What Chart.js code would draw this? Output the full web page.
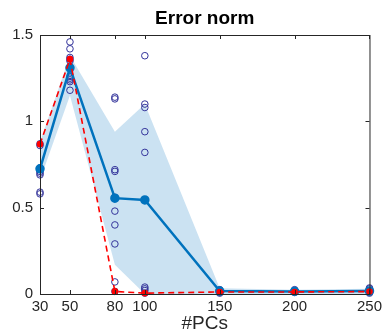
<!DOCTYPE html>
<html>
<head>
<meta charset="utf-8">
<script src="https://cdn.jsdelivr.net/npm/chart.js@4/dist/chart.umd.min.js"></script>
<style>
  html, body { margin: 0; padding: 0; background: #fff; }
  #wrap { width: 386px; height: 335px; }
</style>
</head>
<body>
<div id="wrap"><canvas id="chartError"></canvas></div>
<script>
// number of PCs on the x axis
const pcs = [30, 50, 80, 100, 150, 200, 250];
const yTicks = [0, 0.5, 1, 1.5];

// mean error (solid blue) and the red dashed curve
const meanErr = [0.725, 1.31, 0.555, 0.545, 0.017, 0.015, 0.018];
const redErr = [0.868, 1.36, 0.015, 0.005, 0.012, 0.012, 0.014];

// shaded band
const bandUpper = [0.88, 1.38, 0.94, 1.10, 0.033, 0.025, 0.03];
const bandLower = [0.66, 1.15, 0.17, 0.0, 0.0, 0.0, 0.0];

// single runs (open circles)
const runs30 = [0.87, 0.86, 0.73, 0.72, 0.71, 0.70, 0.69, 0.59, 0.58];
const runs50 = [1.46, 1.42, 1.37, 1.36, 1.35, 1.31, 1.26, 1.25, 1.24, 1.23, 1.18];
const runs80 = [1.14, 1.13, 0.72, 0.71, 0.56, 0.48, 0.40, 0.29, 0.07, 0.015];
const runs100 = [1.38, 1.10, 1.08, 0.94, 0.82, 0.04, 0.03, 0.02, 0.005];
const runs150 = [0.025, 0.02, 0.015, 0.01, 0.005];
const runs200 = [0.025, 0.02, 0.015, 0.01];
const runs250 = [0.035, 0.03, 0.02, 0.015, 0.01, 0.005];

const allRuns = [runs30, runs50, runs80, runs100, runs150, runs200, runs250];
const toXY = (vals) => vals.map((v, i) => ({ x: pcs[i], y: v }));
const runPoints = [];
allRuns.forEach((list, i) => list.forEach(v => runPoints.push({ x: pcs[i], y: v })));

const axisColor = '#262626';

// MATLAB style box with inward ticks
const boxPlugin = {
    id: 'box',
    afterDraw(chart) {
        const { ctx, chartArea: a, scales } = chart;
        ctx.save();
        ctx.strokeStyle = axisColor;
        ctx.lineWidth = 1;
        ctx.strokeRect(a.left + 0.5, a.top + 0.5, a.right - a.left, a.bottom - a.top);
        ctx.beginPath();
        pcs.forEach(v => {
            const x = Math.round(scales.x.getPixelForValue(v)) + 0.5;
            ctx.moveTo(x, a.bottom); ctx.lineTo(x, a.bottom - 4);
            ctx.moveTo(x, a.top); ctx.lineTo(x, a.top + 4);
        });
        yTicks.forEach(v => {
            const y = Math.round(scales.y.getPixelForValue(v)) + 0.5;
            ctx.moveTo(a.left, y); ctx.lineTo(a.left + 4, y);
            ctx.moveTo(a.right, y); ctx.lineTo(a.right - 4, y);
        });
        ctx.stroke();
        ctx.restore();
    }
};

new Chart(document.getElementById('chartError'), {
    type: 'line',
    data: {
        datasets: [
            {
                label: 'lower',
                data: toXY(bandLower),
                borderWidth: 0,
                pointRadius: 0,
                fill: false,
                order: 5
            },
            {
                label: 'upper',
                data: toXY(bandUpper),
                borderWidth: 0,
                pointRadius: 0,
                backgroundColor: 'rgba(160,203,232,0.55)',
                fill: 0,
                order: 4
            },
            {
                label: 'runs',
                data: runPoints,
                showLine: false,
                pointRadius: 3.3,
                pointBorderWidth: 1,
                pointBorderColor: '#33339a',
                pointBackgroundColor: 'rgba(0,0,0,0)',
                clip: false,
                order: 3
            },
            {
                label: 'mean',
                data: toXY(meanErr),
                borderColor: '#0072BD',
                borderWidth: 2.5,
                pointRadius: 3.5,
                pointBackgroundColor: '#0072BD',
                pointBorderColor: '#0072BD',
                tension: 0,
                clip: false,
                order: 2
            },
            {
                label: 'red',
                data: toXY(redErr),
                borderColor: '#ff0000',
                borderWidth: 1.6,
                borderDash: [6, 4],
                pointRadius: 2.5,
                pointBackgroundColor: '#ff0000',
                pointBorderColor: '#ff0000',
                tension: 0,
                clip: false,
                order: 1
            }
        ]
    },
    options: {
        responsive: true,
        maintainAspectRatio: false,
        animation: false,
        layout: { padding: { left: 0, right: 13, top: 0, bottom: 0 } },
        plugins: {
            legend: { display: false },
            tooltip: { enabled: false },
            title: {
                display: true,
                text: 'Error norm',
                fullSize: false,
                color: '#000',
                font: { family: 'Liberation Sans, Arial, sans-serif', size: 19, weight: 'bold' },
                padding: { top: 7, bottom: 5.2 }
            }
        },
        scales: {
            x: {
                type: 'linear',
                min: 30,
                max: 250,
                afterBuildTicks: (scale) => { scale.ticks = pcs.map(v => ({ value: v })); },
                afterFit: (scale) => { scale.height = 41; },
                grid: { display: false, drawTicks: false },
                border: { display: false },
                ticks: {
                    padding: 4,
                    maxRotation: 0,
                    autoSkip: false,
                    color: axisColor,
                    font: { family: 'Liberation Sans, Arial, sans-serif', size: 15 }
                },
                title: {
                    display: true,
                    text: '#PCs',
                    color: axisColor,
                    padding: 0,
                    font: { family: 'Liberation Sans, Arial, sans-serif', size: 19 }
                }
            },
            y: {
                min: 0,
                max: 1.5,
                afterBuildTicks: (scale) => { scale.ticks = yTicks.map(v => ({ value: v })); },
                afterFit: (scale) => { scale.width = 40; },
                grid: { display: false, drawTicks: false },
                border: { display: false },
                ticks: {
                    padding: 7,
                    color: axisColor,
                    font: { family: 'Liberation Sans, Arial, sans-serif', size: 15 },
                    callback: (v) => String(v)
                }
            }
        }
    },
    plugins: [boxPlugin]
});
</script>
</body>
</html>
